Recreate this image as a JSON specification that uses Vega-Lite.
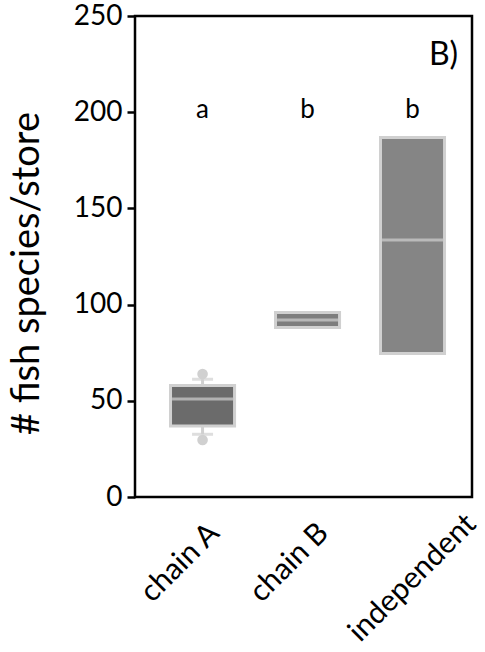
{
  "$schema": "https://vega.github.io/schema/vega-lite/v6.json",
  "width": 337,
  "height": 481,
  "autosize": {"type": "none"},
  "padding": {"left": 135, "top": 16, "right": 13, "bottom": 155},
  "background": "white",
  "config": {
    "view": {"stroke": "black", "strokeWidth": 2.5},
    "font": "Lato"
  },
  "datasets": {
    "boxes": [
      {"group": "chain A", "q1": 36.9, "median": 50.9, "q3": 58.0},
      {"group": "chain B", "q1": 88.1, "median": 92.0, "q3": 95.9},
      {"group": "independent", "q1": 74.6, "median": 133.6, "q3": 186.9}
    ],
    "whiskers": [
      {"group": "chain A", "edge": 58.0, "cap": 61.2},
      {"group": "chain A", "edge": 36.9, "cap": 32.6}
    ],
    "outliers": [
      {"group": "chain A", "value": 63.9},
      {"group": "chain A", "value": 29.6}
    ],
    "letters": [
      {"group": "chain A", "letter": "a", "value": 197},
      {"group": "chain B", "letter": "b", "value": 197},
      {"group": "independent", "letter": "b", "value": 197}
    ],
    "panel": [
      {"group": "independent", "label": "B)", "value": 224.5}
    ]
  },
  "layer": [
    {
      "data": {"name": "boxes"},
      "mark": {"type": "bar", "stroke": "#d0d0d0", "strokeWidth": 3},
      "encoding": {
        "x": {
          "field": "group", "type": "nominal",
          "sort": ["chain A", "chain B", "independent"],
          "scale": {"paddingInner": 0.39, "paddingOuter": 0.3, "align": 0.564},
          "axis": {
            "title": null, "domain": false, "ticks": false, "tickSize": 0,
            "labelAngle": -45, "labelAlign": "right", "labelBaseline": "middle",
            "labelFont": "Lato", "labelFontSize": 30, "labelColor": "black",
            "labelPadding": 0, "labelOffset": 0,
            "encoding": {
              "labels": {
                "dx": {"condition": [{"test": "datum.value == 'chain A'", "value": -13.5}, {"test": "datum.value == 'chain B'", "value": -10.5}], "value": 26},
                "dy": {"condition": [{"test": "datum.value == 'chain A'", "value": 30.4}, {"test": "datum.value == 'chain B'", "value": 33.3}], "value": 57}
              }
            }
          }
        },
        "y": {
          "field": "q1", "type": "quantitative",
          "scale": {"domain": [0, 250], "nice": false},
          "axis": {
            "title": "# fish species/store",
            "values": [0, 50, 100, 150, 200, 250],
            "grid": false, "domain": false,
            "ticks": true, "tickSize": 8, "tickWidth": 2.5, "tickColor": "black",
            "labelFont": "Lato", "labelFontSize": 28, "labelColor": "black", "labelPadding": 5,
            "titleFont": "Lato", "titleFontSize": 38, "titleFontWeight": "normal", "titleColor": "black",
            "titleBaseline": "alphabetic", "titleX": -97, "titleY": 257, "titleAngle": -90
          }
        },
        "y2": {"field": "q3"},
        "color": {
          "field": "group", "type": "nominal",
          "scale": {"domain": ["chain A", "chain B", "independent"], "range": ["#6b6b6b", "#7d7d7d", "#858585"]},
          "legend": null
        }
      }
    },
    {
      "data": {"name": "boxes"},
      "mark": {"type": "tick", "color": "#d0d0d0", "thickness": 3, "size": 61, "orient": "horizontal"},
      "encoding": {
        "x": {"field": "group", "type": "nominal", "sort": ["chain A", "chain B", "independent"]},
        "y": {"field": "median", "type": "quantitative"}
      }
    },
    {
      "data": {"name": "whiskers"},
      "mark": {"type": "rule", "color": "#d0d0d0", "strokeWidth": 3},
      "encoding": {
        "x": {"field": "group", "type": "nominal", "sort": ["chain A", "chain B", "independent"]},
        "y": {"field": "edge", "type": "quantitative"},
        "y2": {"field": "cap"}
      }
    },
    {
      "data": {"name": "whiskers"},
      "mark": {"type": "tick", "color": "#d0d0d0", "thickness": 3, "size": 21, "orient": "horizontal"},
      "encoding": {
        "x": {"field": "group", "type": "nominal", "sort": ["chain A", "chain B", "independent"]},
        "y": {"field": "cap", "type": "quantitative"}
      }
    },
    {
      "data": {"name": "outliers"},
      "mark": {"type": "point", "shape": "circle", "filled": true, "color": "#d0d0d0", "opacity": 1, "size": 113},
      "encoding": {
        "x": {"field": "group", "type": "nominal", "sort": ["chain A", "chain B", "independent"]},
        "y": {"field": "value", "type": "quantitative"}
      }
    },
    {
      "data": {"name": "letters"},
      "mark": {"type": "text", "font": "Lato", "fontSize": 26, "color": "black", "baseline": "alphabetic", "align": "center"},
      "encoding": {
        "x": {"field": "group", "type": "nominal", "sort": ["chain A", "chain B", "independent"]},
        "y": {"field": "value", "type": "quantitative"},
        "text": {"field": "letter"}
      }
    },
    {
      "data": {"name": "panel"},
      "mark": {"type": "text", "font": "Lato", "fontSize": 32, "color": "black", "baseline": "alphabetic", "align": "center", "dx": 31},
      "encoding": {
        "x": {"field": "group", "type": "nominal", "sort": ["chain A", "chain B", "independent"]},
        "y": {"field": "value", "type": "quantitative"},
        "text": {"field": "label"}
      }
    }
  ]
}
